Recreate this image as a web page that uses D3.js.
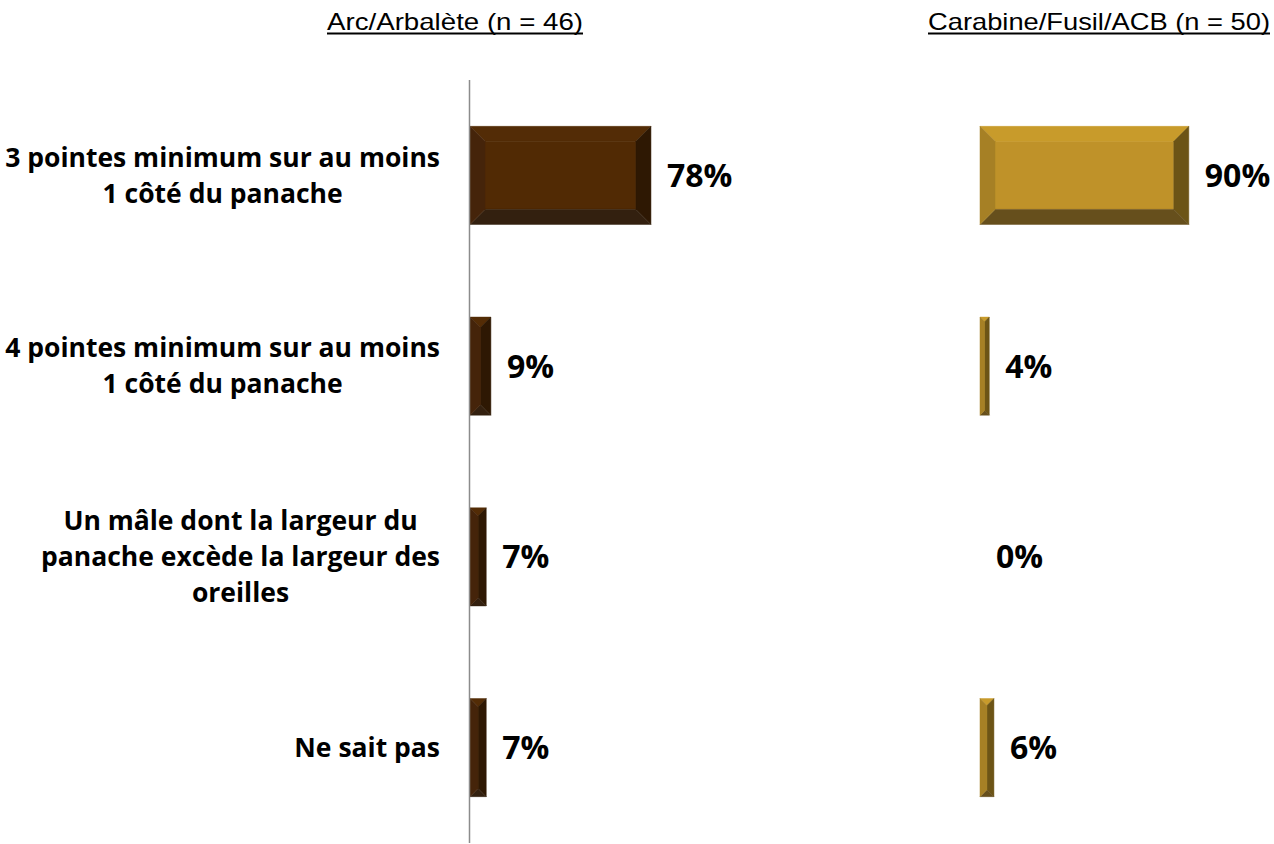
<!DOCTYPE html>
<html>
<head>
<meta charset="utf-8">
<script src="https://cdn.jsdelivr.net/npm/d3@7"></script>
<style>
  html, body { margin: 0; padding: 0; background: #ffffff; }
  svg { display: block; }
</style>
</head>
<body>
<svg id="chart" width="1274" height="844"></svg>
<script>
// Category labels (one entry per line of wrapped text)
const categories = [
  "3 pointes minimum sur au moins|1 côté du panache",
  "4 pointes minimum sur au moins|1 côté du panache",
  "Un mâle dont la largeur du|panache excède la largeur des|oreilles",
  "Ne sait pas"
];
// Percentages per weapon group
const arcValues = [78, 9, 7, 7];
const fusilValues = [90, 4, 0, 6];
const panelTitles = ["Arc/Arbalète (n = 46)", "Carabine/Fusil/ACB (n = 50)"];

const svg = d3.select("#chart");

const labelFont = "'Open Sans', Lato, sans-serif";
const titleFont = "'Liberation Sans Narrow', 'Arial Narrow', 'Liberation Sans', sans-serif";

// Shared vertical band scale
const y = d3.scaleBand()
  .domain(categories)
  .range([80, 843])
  .paddingInner(0.486)
  .paddingOuter(0.243);

// Same value scale in both panels
const x = d3.scaleLinear().domain([0, 100]).range([0, 232]);

// Colour sets for the bevelled bars: face, top, left, right, bottom
const palettes = {
  arc:   { face: "#512A04", top: "#532C06", left: "#45240A", right: "#2E1803", bottom: "#33200F" },
  fusil: { face: "#BF9229", top: "#C89B2B", left: "#A68025", right: "#6C5416", bottom: "#664F1C" }
};

const panels = [
  { key: "arc", values: arcValues, origin: 470, title: panelTitles[0], titleX: 455, titleW: 256, axis: true },
  { key: "fusil", values: fusilValues, origin: 980, title: panelTitles[1], titleX: 1099, titleW: 342, axis: false }
];

// Category labels: each block centred on itself, right-aligned at the axis gutter
const labelRight = 440;
const lineH = 36;
const labelG = svg.append("g").attr("class", "category-labels");
categories.forEach(cat => {
  const lines = cat.split("|");
  const cy = y(cat) + y.bandwidth() / 2;
  const t = labelG.append("text")
    .attr("font-family", labelFont)
    .attr("font-weight", 700)
    .attr("font-size", 26.5)
    .attr("fill", "#000")
    .attr("text-anchor", "middle");
  lines.forEach((ln, i) => {
    t.append("tspan")
      .attr("x", 0)
      .attr("y", cy + (i - (lines.length - 1) / 2) * lineH)
      .attr("dy", "0.35em")
      .text(ln);
  });
  const w = t.node().getBBox().width;
  t.attr("transform", `translate(${labelRight - w / 2},0)`);
});

function bevelFaces(x0, x1, y0, y1) {
  const b = Math.min(15, (x1 - x0) / 2, (y1 - y0) / 2);
  return [
    { f: "face", pts: [[x0 + b, y0 + b], [x1 - b, y0 + b], [x1 - b, y1 - b], [x0 + b, y1 - b]] },
    { f: "top", pts: [[x0, y0], [x1, y0], [x1 - b, y0 + b], [x0 + b, y0 + b]] },
    { f: "right", pts: [[x1, y0], [x1, y1], [x1 - b, y1 - b], [x1 - b, y0 + b]] },
    { f: "bottom", pts: [[x0, y1], [x1, y1], [x1 - b, y1 - b], [x0 + b, y1 - b]] },
    { f: "left", pts: [[x0, y0], [x0 + b, y0 + b], [x0 + b, y1 - b], [x0, y1]] }
  ];
}

panels.forEach(p => {
  const g = svg.append("g").attr("class", "panel-" + p.key);
  const pal = palettes[p.key];

  // Panel title, underlined
  g.append("text")
    .attr("x", p.titleX)
    .attr("y", 29.5)
    .attr("text-anchor", "middle")
    .attr("font-family", titleFont)
    .attr("font-size", 24)
    .attr("textLength", p.titleW)
    .attr("lengthAdjust", "spacingAndGlyphs")
    .attr("fill", "#000")
    .text(p.title);
  g.append("line")
    .attr("x1", p.titleX - p.titleW / 2).attr("x2", p.titleX + p.titleW / 2)
    .attr("y1", 33.5).attr("y2", 33.5)
    .attr("stroke", "#000").attr("stroke-width", 2);

  // Bars
  categories.forEach((cat, i) => {
    const v = p.values[i];
    const x0 = p.origin;
    const x1 = p.origin + x(v);
    const y0 = y(cat);
    const y1 = y0 + y.bandwidth();
    if (v > 0) {
      bevelFaces(x0, x1, y0, y1).forEach(face => {
        g.append("polygon")
          .attr("points", face.pts.map(d => d.join(",")).join(" "))
          .attr("fill", pal[face.f])
          .attr("stroke", pal[face.f])
          .attr("stroke-width", 0.5);
      });
    }
    g.append("text")
      .attr("x", x1 + 16)
      .attr("y", y0 + y.bandwidth() / 2)
      .attr("dy", "0.36em")
      .attr("font-family", labelFont)
      .attr("font-weight", 700)
      .attr("font-size", 32)
      .attr("fill", "#000")
      .text(v + "%");
  });

  // Category axis line
  if (p.axis) {
    g.append("line")
      .attr("x1", p.origin - 0.5).attr("x2", p.origin - 0.5)
      .attr("y1", 80).attr("y2", 843)
      .attr("stroke", "#8c8c8c").attr("stroke-width", 1.5);
  }
});
</script>
</body>
</html>
